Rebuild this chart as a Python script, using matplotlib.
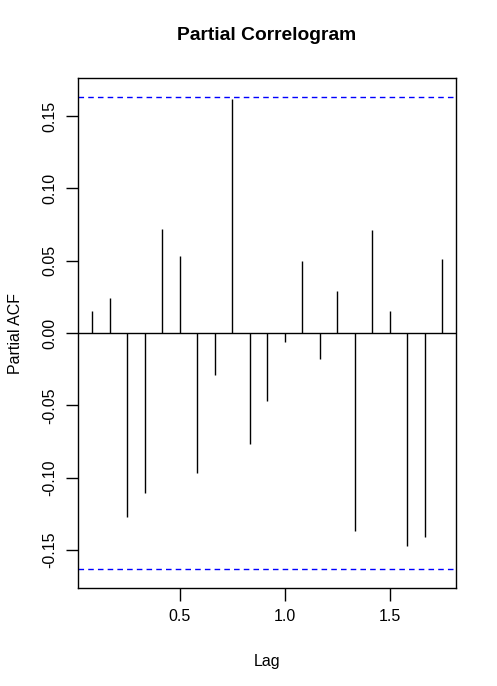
import numpy as np
import matplotlib
matplotlib.use("Agg")
import matplotlib.pyplot as plt

plt.rcParams['font.family'] = ['Liberation Sans', 'DejaVu Sans']

lags = [k / 12 for k in range(1, 22)]
pacf = [0.015, 0.024, -0.127, -0.111, 0.072, 0.053, -0.097, -0.029, 0.162,
        -0.077, -0.047, -0.006, 0.050, -0.018, 0.029, -0.137, 0.071, 0.015,
        -0.147, -0.141, 0.051]
n_obs = 144
ci = 1.96 / np.sqrt(n_obs)
yticks = [-0.15, -0.10, -0.05, 0.00, 0.05, 0.10, 0.15]
xticks = [0.5, 1.0, 1.5]

fig = plt.figure(figsize=(4.97, 6.86), dpi=100)
ax = fig.add_axes([78/497, 1 - 588/686, (456-78)/497, (588-78)/686])

ax.vlines(lags, 0, pacf, colors='black', linewidth=1)
ax.axhline(0, color='black', linewidth=1)
ax.axhline(ci, color='#0000ff', linestyle=(0, (4, 3)), linewidth=1)
ax.axhline(-ci, color='#0000ff', linestyle=(0, (4, 3)), linewidth=1)

xr = lags[-1] - lags[0]
ax.set_xlim(lags[0] - 0.04 * xr, lags[-1] + 0.04 * xr)
ax.set_ylim(-ci * 1.08, ci * 1.08)

ax.set_xticks(xticks)
ax.set_xticklabels([f"{t:.1f}" for t in xticks])
ax.set_yticks(yticks)
ax.set_yticklabels([f"{t:.2f}" for t in yticks], rotation=90, va='center')
ax.tick_params(axis='both', length=9, width=1, labelsize=11.5, pad=6, color='black')
for s in ax.spines.values():
    s.set_linewidth(1)

ax.set_xlabel("Lag", fontsize=11.5, labelpad=22)
ax.set_ylabel("Partial ACF", fontsize=11.5, labelpad=14)
fig.text(267/497, 1 - 35/686, "Partial Correlogram", ha='center', va='center',
         fontsize=13.9, fontweight='bold')

fig.savefig("out.png", dpi=100)
